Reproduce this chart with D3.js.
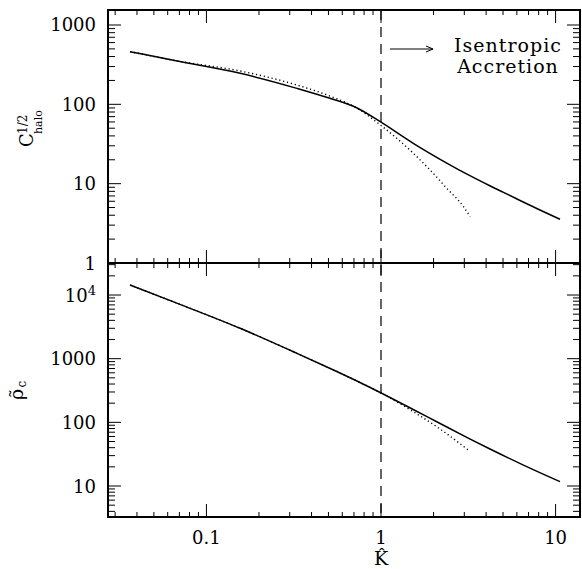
<!DOCTYPE html>
<html>
<head>
<meta charset="utf-8">
<script src="https://cdn.jsdelivr.net/npm/d3@7/dist/d3.min.js"></script>
<style>
  html, body { margin: 0; padding: 0; background: #fff; }
  text { font-family: "DejaVu Serif", serif; fill: #000; }
</style>
</head>
<body>
<svg id="chart" width="582" height="569"></svg>
<script>
// ---------------- data ----------------
const kSolidTop = [0.0365, 0.068, 0.156, 0.33, 0.51, 0.73, 0.99, 1.53, 2.38, 3.23, 4.2, 5.86, 7.8, 10.6];
const cSolidTop = [461, 352, 246, 159, 119, 90, 60.4, 32.3, 18.2, 12.6, 9.4, 6.6, 4.86, 3.56];

const kDotTop = [0.0365, 0.068, 0.156, 0.33, 0.51, 0.73, 0.99, 1.23, 1.53, 1.91, 2.38, 2.97, 3.24];
const cDotTop = [461, 352, 263, 175, 127, 89.3, 55, 37.4, 24.2, 14.9, 8.75, 5.13, 3.84];

const kSolidBot = [0.0365, 0.07, 0.156, 0.33, 0.55, 0.758, 0.99, 1.5, 2.18, 3.2, 4.21, 6.5, 10.6];
const rSolidBot = [14350, 7190, 3000, 1214, 640, 423, 294, 163.7, 95.9, 55.6, 38.1, 21.5, 11.7];

const kDotBot = [0.0365, 0.07, 0.156, 0.33, 0.55, 0.758, 0.99, 1.53, 2.18, 3.16];
const rDotBot = [14350, 7190, 3000, 1214, 640, 423, 294, 147, 78.5, 36.7];

const xMajor = [0.1, 1, 10];
const xMajorLabels = ["0.1", "1", "10"];
const yTopMajor = [1, 10, 100, 1000];
const yTopLabels = ["1", "10", "100", "1000"];
const yBotMajor = [10, 100, 1000, 10000];
const yBotLabels = ["10", "100", "1000", "10|4"];

const kMark = 1; // vertical dashed line
const annotation = ["Isentropic", "Accretion"];

// ---------------- layout ----------------
const L = 108, R = 580, T = 10, M = 263, B = 517;
const svg = d3.select("#chart");

const x = d3.scaleLog().domain([0.0273, 13.8]).range([L, R]);
const yTop = d3.scaleLog().domain([1, 1545]).range([M, T]);
const yBot = d3.scaleLog().domain([3.26, 31840]).range([B, M]);

function minorTicks(domain) {
  const lo = domain[0], hi = domain[1];
  const out = [];
  for (let e = Math.floor(Math.log10(lo)); e <= Math.ceil(Math.log10(hi)); e++) {
    for (let m = 1; m <= 9; m++) {
      const v = m * Math.pow(10, e);
      if (v >= lo * 0.999 && v <= hi * 1.001) out.push({v, major: m === 1});
    }
  }
  return out;
}

const tickG = svg.append("g").attr("stroke", "#000").attr("stroke-width", 1);

// x ticks: bottom of bottom panel (up), top of top panel (down), middle both ways
minorTicks(x.domain()).forEach(t => {
  const px = x(t.v);
  const len = t.major ? 13 : 5;
  tickG.append("line").attr("x1", px).attr("x2", px).attr("y1", B).attr("y2", B - len);
  tickG.append("line").attr("x1", px).attr("x2", px).attr("y1", T).attr("y2", T + len);
  tickG.append("line").attr("x1", px).attr("x2", px).attr("y1", M).attr("y2", M - len);
  tickG.append("line").attr("x1", px).attr("x2", px).attr("y1", M).attr("y2", M + len);
});

// y ticks
function yTicks(scale) {
  minorTicks(scale.domain()).forEach(t => {
    const py = scale(t.v);
    const len = t.major ? 13 : 7;
    tickG.append("line").attr("x1", L).attr("x2", L + len).attr("y1", py).attr("y2", py);
    tickG.append("line").attr("x1", R).attr("x2", R - len).attr("y1", py).attr("y2", py);
  });
}
yTicks(yTop);
yTicks(yBot);

// frames
const frame = svg.append("g").attr("fill", "none").attr("stroke", "#000").attr("stroke-width", 2);
frame.append("rect").attr("x", L).attr("y", T).attr("width", R - L).attr("height", B - T);
frame.append("line").attr("x1", L).attr("x2", R).attr("y1", M).attr("y2", M);

// dashed vertical line
svg.append("line")
  .attr("x1", x(kMark)).attr("x2", x(kMark))
  .attr("y1", T).attr("y2", B)
  .attr("stroke", "#000").attr("stroke-width", 1.2)
  .attr("stroke-dasharray", "10,7");

// data lines
function drawLine(ks, vs, yScale, dotted) {
  const pts = ks.map((k, i) => [x(k), yScale(vs[i])]);
  const line = d3.line().curve(d3.curveMonotoneX);
  const p = svg.append("path")
    .attr("d", line(pts))
    .attr("fill", "none")
    .attr("stroke", "#000");
  if (dotted) p.attr("stroke-width", 1.4).attr("stroke-dasharray", "1.2,2.8");
  else p.attr("stroke-width", 1.5);
}
drawLine(kDotTop, cDotTop, yTop, true);
drawLine(kSolidTop, cSolidTop, yTop, false);
drawLine(kDotBot, rDotBot, yBot, true);
drawLine(kSolidBot, rSolidBot, yBot, false);

// tick labels
const fs = 18;
xMajor.forEach((v, i) => {
  svg.append("text").attr("x", x(v)).attr("y", 543.5)
    .attr("text-anchor", "middle").attr("font-size", fs).text(xMajorLabels[i]);
});
function yLabels(scale, vals, labels) {
  vals.forEach((v, i) => {
    const t = svg.append("text").attr("x", 96).attr("y", scale(v) + 6.5)
      .attr("text-anchor", "end").attr("font-size", fs);
    const parts = labels[i].split("|");
    t.append("tspan").text(parts[0]);
    if (parts[1]) t.append("tspan").attr("font-size", 13).attr("dy", -7).text(parts[1]);
  });
}
yLabels(yTop, yTopMajor, yTopLabels);
yLabels(yBot, yBotMajor, yBotLabels);

// axis titles
svg.append("text").attr("x", x(1)).attr("y", 565)
  .attr("text-anchor", "middle").attr("font-size", 19).text("K\u0302");

const t1 = svg.append("g").attr("transform", "translate(33,147) rotate(-90)");
t1.append("text").attr("x", 0).attr("y", 0).attr("font-size", 18).text("C");
t1.append("text").attr("x", 13).attr("y", -6).attr("font-size", 12).text("1/2");
t1.append("text").attr("x", 13).attr("y", 8.5).attr("font-size", 11).text("halo");

const t2 = svg.append("g").attr("transform", "translate(23,400) rotate(-90)");
t2.append("text").attr("x", 0).attr("y", 0).attr("font-size", 19).text("\u03C1\u0303");
t2.append("text").attr("x", 12.5).attr("y", 3).attr("font-size", 12).text("c");

// annotation
const ay = 49;
svg.append("line").attr("x1", 390).attr("x2", 433).attr("y1", ay).attr("y2", ay)
  .attr("stroke", "#000").attr("stroke-width", 1);
svg.append("path").attr("d", `M426,${ay - 3}L433,${ay}L426,${ay + 3}`)
  .attr("fill", "none").attr("stroke", "#000").attr("stroke-width", 1);
annotation.forEach((s, i) => {
  svg.append("text").attr("x", 508).attr("y", 51.5 + i * 21.3)
    .attr("text-anchor", "middle").attr("font-size", 19)
    .attr("letter-spacing", 1).text(s);
});
</script>
</body>
</html>
